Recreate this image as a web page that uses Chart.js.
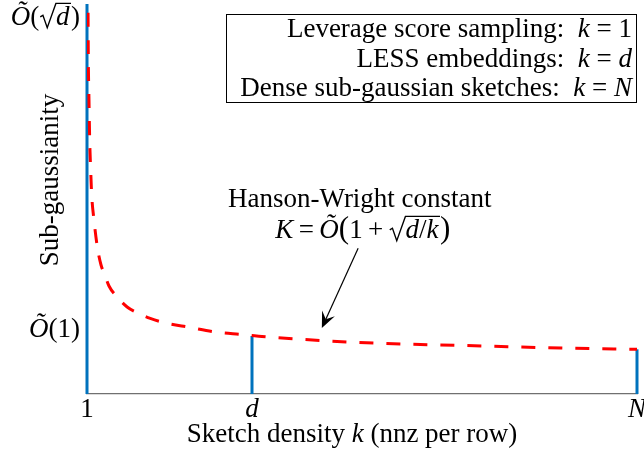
<!DOCTYPE html>
<html><head><meta charset="utf-8">
<script src="https://cdn.jsdelivr.net/npm/chart.js@4.4.0/dist/chart.umd.min.js"></script>
<style>html,body{margin:0;padding:0;background:#fff}#wrap{width:644px;height:453px}</style>
</head><body><div id="wrap"><canvas id="c" width="644" height="453"></canvas></div>
<script>
// ---- data ----
const D_VAL = 31, N_VAL = 101;
const xTickValues = [1, D_VAL, N_VAL];
const xTickLabels = ['1', 'd', 'N'];
const yTickValues = [1.083, 6.283];
const yTickLabels = [
  [{t:'Õ', i:1}, {t:'(1)'}],
  [{t:'Õ', i:1}, {t:'('}, {sqrt:[{t:'d', i:1}]}, {t:')'}]
];
// Hanson-Wright constant curve
const curveK = [1.10, 1.18, 1.24, 1.36, 1.49, 1.67, 1.85, 2.27, 2.91, 3.55, 4.18, 5.0, 6.55, 8.3, 10.45, 12.5, 15.0, 19.7, 24.5, 29.5, 31, 32.8, 39.0, 48.5, 58.1, 67.9, 77.5, 87.2, 96.8, 101];
const curveY = [6.80, 6.50, 5.57, 4.90, 4.23, 3.73, 3.32, 2.90, 2.43, 2.15, 2.00, 1.80, 1.61, 1.45, 1.34, 1.26, 1.19, 1.11, 1.03, 0.99, 0.975, 0.958, 0.917, 0.867, 0.833, 0.812, 0.788, 0.767, 0.750, 0.745];
// sketch types (vertical blue lines)
const sketchK = [1, D_VAL, N_VAL];
const sketchTop = [6.6, 0.967, 0.745];
const legendLines = [
  [{t:'Leverage score sampling:  '}, {t:'k', i:1}, {t:' = 1'}],
  [{t:'LESS embeddings:  '}, {t:'k', i:1}, {t:' = '}, {t:'d', i:1}],
  [{t:'Dense sub-gaussian sketches:  '}, {t:'k', i:1}, {t:' = '}, {t:'N', i:1}]
];
const xTitle = [{t:'Sketch density '}, {t:'k', i:1}, {t:' (nnz per row)'}];
const yTitle = [{t:'Sub-gaussianity'}];
const annoLine1 = [{t:'Hanson-Wright constant'}];
const annoLine2 = [{t:'K', i:1}, {t:'\u2009=\u2009'}, {t:'Õ', i:1}, {t:'(', sc:1.15}, {t:'1\u2009+\u2009'}, {sqrt:[{t:'d', i:1}, {t:'/'}, {t:'k', i:1}]}, {t:')', sc:1.15}];
const annoTextAt = [50.6, 3.11, 2.60];   // k, baseline y line1, baseline y line2
const arrowFrom = [50.3, 2.43];
const arrowTo = [43.7, 1.10];

// ---- rich text helpers ----
const SERIF = '"Liberation Serif", "Times New Roman", serif';
const FS = 27;
function fnt(size, it){ return (it ? 'italic ' : '') + size + 'px ' + SERIF; }
function measure(ctx, segs, size){
  let w = 0;
  for (const s of segs){
    if (s.sqrt){ w += size*0.62 + measure(ctx, s.sqrt, size) + size*0.06; }
    else { ctx.font = fnt(size*(s.sc||1), s.i); w += ctx.measureText(s.t).width; }
  }
  return w;
}
function drawSegs(ctx, segs, x, y, size){
  for (const s of segs){
    if (s.sqrt){
      const rw = size*0.62;
      const inner = measure(ctx, s.sqrt, size);
      const top = y - size*0.80;
      ctx.save();
      ctx.lineWidth = size*0.05;
      ctx.lineJoin = 'miter';
      ctx.beginPath();
      ctx.moveTo(x + size*0.04, y - size*0.30);
      ctx.lineTo(x + size*0.14, y - size*0.36);
      ctx.lineTo(x + size*0.30, y + size*0.10);
      ctx.lineTo(x + rw, top);
      ctx.lineTo(x + rw + inner + size*0.06, top);
      ctx.stroke();
      ctx.restore();
      x = drawSegs(ctx, s.sqrt, x + rw, y, size) + size*0.06;
    } else {
      ctx.font = fnt(size*(s.sc||1), s.i);
      ctx.fillText(s.t, x, y);
      x += ctx.measureText(s.t).width;
    }
  }
  return x;
}
function drawRich(ctx, segs, x, y, size, align){
  const w = measure(ctx, segs, size);
  const sx = align === 'right' ? x - w : align === 'center' ? x - w/2 : x;
  ctx.textBaseline = 'alphabetic';
  ctx.textAlign = 'left';
  ctx.fillStyle = '#000';
  ctx.strokeStyle = '#000';
  drawSegs(ctx, segs, sx, y, size);
}

const decor = {
  id: 'decor',
  afterDraw(chart){
    const ctx = chart.ctx, xs = chart.scales.x, ys = chart.scales.y, ca = chart.chartArea;
    ctx.save();
    // y tick labels
    yTickValues.forEach((v, i) => drawRich(ctx, yTickLabels[i], ca.left - 7, ys.getPixelForValue(v) + 8, FS, 'right'));
    // axis titles
    drawRich(ctx, xTitle, (ca.left + ca.right)/2 - 10, 442, FS, 'center');
    ctx.save();
    ctx.translate(58, 180);
    ctx.rotate(-Math.PI/2);
    drawRich(ctx, yTitle, 0, 0, FS, 'center');
    ctx.restore();
    // annotation
    const ax = xs.getPixelForValue(annoTextAt[0]);
    drawRich(ctx, annoLine1, ax, ys.getPixelForValue(annoTextAt[1]), FS, 'center');
    drawRich(ctx, annoLine2, ax + 3, ys.getPixelForValue(annoTextAt[2]), FS, 'center');
    const x0 = xs.getPixelForValue(arrowFrom[0]), y0 = ys.getPixelForValue(arrowFrom[1]);
    const x1 = xs.getPixelForValue(arrowTo[0]), y1 = ys.getPixelForValue(arrowTo[1]);
    const len = Math.hypot(x1-x0, y1-y0), ux = (x1-x0)/len, uy = (y1-y0)/len, nx = -uy, ny = ux;
    const L = 16, W = 7;
    ctx.strokeStyle = '#000'; ctx.lineWidth = 1.2;
    ctx.beginPath(); ctx.moveTo(x0, y0); ctx.lineTo(x1 - ux*L*0.6, y1 - uy*L*0.6); ctx.stroke();
    ctx.fillStyle = '#000';
    ctx.beginPath();
    ctx.moveTo(x1, y1);
    ctx.lineTo(x1 - ux*L + nx*W, y1 - uy*L + ny*W);
    ctx.lineTo(x1 - ux*L*0.6, y1 - uy*L*0.6);
    ctx.lineTo(x1 - ux*L - nx*W, y1 - uy*L - ny*W);
    ctx.closePath(); ctx.fill();
    // legend box
    const bx = 226, by = ca.top + 10, bw = ca.right - bx, bh = 88;
    ctx.fillStyle = '#fff';
    ctx.fillRect(bx, by, bw, bh);
    ctx.strokeStyle = '#000'; ctx.lineWidth = 1;
    ctx.strokeRect(bx + 0.5, by + 0.5, bw - 1, bh);
    const base = [23, 52.5, 82];
    legendLines.forEach((ln, i) => drawRich(ctx, ln, ca.right - 5, by + base[i], FS, 'right'));
    ctx.restore();
  }
};

const curveData = curveK.map((k, i) => ({x: k, y: curveY[i]}));
const sketchSets = sketchK.map((k, i) => ({
  data: [{x: k, y: 0}, {x: k, y: sketchTop[i]}],
  borderColor: '#0072bd', borderWidth: 3, pointRadius: 0, borderCapStyle: 'butt',
  clip: {left: 4, right: 4, top: 0, bottom: 2}
}));

new Chart(document.getElementById('c'), {
  type: 'line',
  data: {
    datasets: [
      { data: curveData, borderColor: '#ff0000', borderWidth: 3, borderDash: [14, 13], pointRadius: 0, cubicInterpolationMode: 'monotone' },
      ...sketchSets
    ]
  },
  options: {
    responsive: false, animation: false, devicePixelRatio: 1,
    layout: { padding: { left: 0, right: 7, top: 4, bottom: 0 } },
    plugins: { legend: { display: false }, tooltip: { enabled: false } },
    scales: {
      x: {
        type: 'linear', min: 1, max: N_VAL,
        grid: { display: false, drawTicks: false },
        border: { display: true, color: '#707070', width: 1.2 },
        afterBuildTicks: s => { s.ticks = xTickValues.map(v => ({value: v})); },
        afterFit: s => { s.height = 59; s.paddingLeft = 0; s.paddingRight = 0; },
        ticks: {
          color: '#000', padding: 2, maxRotation: 0, autoSkip: false,
          font: c => ({ family: SERIF, size: FS, style: c.index > 0 ? 'italic' : 'normal', lineHeight: 1 }),
          callback: (v, i) => xTickLabels[i]
        }
      },
      y: {
        type: 'linear', min: 0, max: 6.5,
        grid: { display: false },
        border: { display: false },
        ticks: { display: false },
        afterFit: s => { s.width = 87; }
      }
    }
  },
  plugins: [decor]
});
</script>
</body></html>
